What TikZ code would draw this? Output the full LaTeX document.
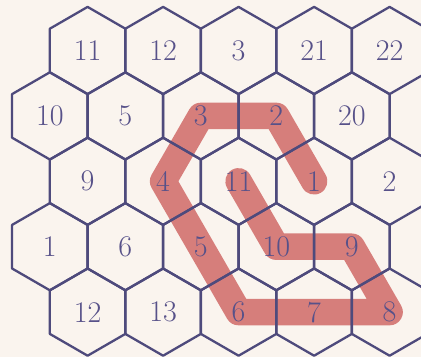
\documentclass[tikz,border=0pt]{standalone}
\usepackage{fontspec}
\usetikzlibrary{backgrounds}
\definecolor{bgc}{HTML}{FAF4EE}
\definecolor{edgec}{HTML}{4E4A7C}
\definecolor{txtc}{HTML}{575189}
\definecolor{redc}{HTML}{D67E7B}
\tikzset{
  hexedge/.style={draw=edgec, line width=2.3pt, line join=round},
  lbl/.style={text=txtc, inner sep=0pt, font=\fontsize{30}{36}\selectfont},
  redpath/.style={draw=redc, line width=26.5pt, line cap=round, line join=round}
}
\begin{document}
\begin{tikzpicture}[x=1pt,y=-1pt]
\useasboundingbox (0,0) rectangle (421,357);
\clip (0,0) rectangle (421,357);
\foreach \r/\labels in {0/{11,12,3,21,22},1/{10,5,3,2,20},2/{9,4,11,1,2},3/{1,6,5,10,9},4/{12,13,6,7,8}} {
  \foreach \t [count=\c from 0] in \labels {
    \ifodd\r \def\xo{49.85}\else\def\xo{87.6}\fi
    \pgfmathsetmacro\x{\xo+75.5*\c}
    \pgfmathsetmacro\y{50.5+65.4*\r}
    \draw[hexedge] (\x,\y) +(90:43.6) -- +(150:43.6) -- +(210:43.6) -- +(270:43.6) -- +(330:43.6) -- +(30:43.6) -- cycle;
    \node[lbl] (h\r\c) at (\x,\y) {\t};
  }
}
\begin{scope}[on background layer]
\fill[bgc] (0,0) rectangle (421,357);
\draw[redpath] (h23.center) -- (h13.center) -- (h12.center) -- (h21.center) -- (h32.center) -- (h42.center) -- (h43.center) -- (h44.center) -- (h34.center) -- (h33.center) -- (h22.center);
\end{scope}
\end{tikzpicture}
\end{document}
